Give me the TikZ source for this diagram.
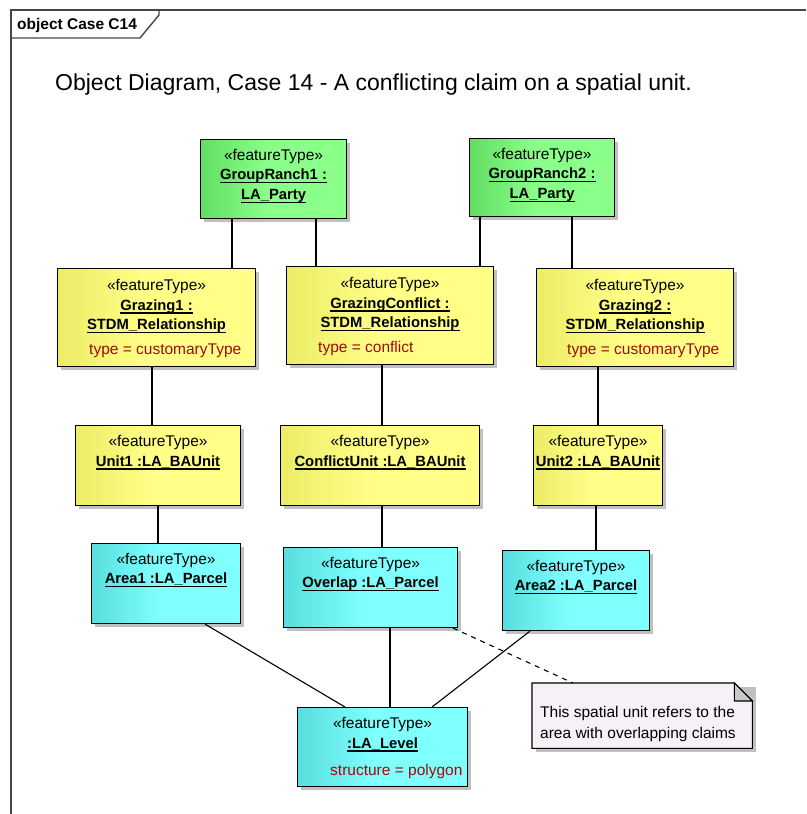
\documentclass[tikz,border=0pt]{standalone}
\usepackage{fontspec}
\setmainfont{Liberation Sans}
\usetikzlibrary{calc}

% box fills: darker at the left edge, fading to the flat colour
\definecolor{greenL}{RGB}{98,222,98}
\definecolor{greenR}{RGB}{138,255,138}
\definecolor{yellowL}{RGB}{236,236,104}
\definecolor{yellowR}{RGB}{255,255,136}
\definecolor{cyanL}{RGB}{88,222,222}
\definecolor{cyanR}{RGB}{128,255,255}
\definecolor{notefill}{RGB}{246,241,246}
\definecolor{foldfill}{RGB}{200,200,200}
\definecolor{shadowgray}{RGB}{192,192,192}
\definecolor{framegray}{RGB}{70,70,70}
\definecolor{attrred}{RGB}{160,10,10}

\pgfdeclarehorizontalshading{greenshade}{100bp}{color(0bp)=(greenL); color(25bp)=(greenL); color(48bp)=(greenR); color(100bp)=(greenR)}
\pgfdeclarehorizontalshading{yellowshade}{100bp}{color(0bp)=(yellowL); color(25bp)=(yellowL); color(48bp)=(yellowR); color(100bp)=(yellowR)}
\pgfdeclarehorizontalshading{cyanshade}{100bp}{color(0bp)=(cyanL); color(25bp)=(cyanL); color(48bp)=(cyanR); color(100bp)=(cyanR)}

% underlined object names
\newsavebox\ulinebox
\newcommand\uname[1]{\sbox\ulinebox{#1}\rlap{\vrule height -2.4pt depth 3.7pt width \wd\ulinebox}\usebox\ulinebox}

\tikzset{
  objnode/.style={draw=black, line width=1.1pt, rectangle, inner sep=0pt},
  greenobj/.style={objnode, shading=greenshade},
  yellowobj/.style={objnode, shading=yellowshade},
  cyanobj/.style={objnode, shading=cyanshade},
  boxshadow/.style={fill=shadowgray},
  stereo/.style={anchor=base, inner sep=0pt, font=\fontsize{15.5}{18}\selectfont},
  objname/.style={anchor=base, inner sep=0pt, font=\bfseries\fontsize{14.8}{17}\selectfont},
  attr/.style={anchor=base west, inner sep=0pt, text=attrred, font=\fontsize{15.5}{18}\selectfont},
  notetext/.style={anchor=base west, inner sep=0pt, font=\fontsize{15.5}{18}\selectfont},
  conn/.style={draw=black, line width=1.1pt},
  frame/.style={draw=framegray, line width=1.4pt},
}

% object box with a drop shadow: name, x, y, width, height, style
\newcommand\objbox[6]{%
  \fill[boxshadow] (#2+4,#3+4) rectangle (#2+#4+4,#3+#5+4);
  \node[#6, minimum width=#4pt, minimum height=#5pt, anchor=north west] (#1) at (#2,#3) {};}

\begin{document}
\begin{tikzpicture}[x=1pt,y=-1pt]
\useasboundingbox (0,0) rectangle (806,814);
\fill[white] (0,0) rectangle (806,814);

% diagram frame and its name tab
\draw[frame] (11,814) -- (11,10) -- (806,10);
\draw[frame] (11,38) -- (140,38) -- (159,15) -- (159,10);
\node[anchor=base west, inner sep=0pt, font=\bfseries\fontsize{15.5}{18}\selectfont] (framelabel) at (17,29.5) {object Case C14};

% title
\node[anchor=base west, inner sep=0pt, font=\fontsize{23}{27}\selectfont] (title) at (55,90)
  {Object Diagram, Case 14 - A conflicting claim on a spatial unit.};

% parties
\objbox{gr1}{200}{139}{146}{79}{greenobj}
\node[stereo] (gr1-st) at ($(gr1.north)+(0,21)$) {«featureType»};
\node[objname] (gr1-n1) at ($(gr1.north)+(0,40.5)$) {\uname{GroupRanch1 :}};
\node[objname] (gr1-n2) at ($(gr1.north)+(0,60.5)$) {\uname{LA\_Party}};

\objbox{gr2}{469}{138}{145}{78}{greenobj}
\node[stereo] (gr2-st) at ($(gr2.north)+(0,21)$) {«featureType»};
\node[objname] (gr2-n1) at ($(gr2.north)+(0,40.5)$) {\uname{GroupRanch2 :}};
\node[objname] (gr2-n2) at ($(gr2.north)+(0,60.5)$) {\uname{LA\_Party}};

% relationships
\objbox{gz1}{57}{268}{198}{98}{yellowobj}
\node[stereo] (gz1-st) at ($(gz1.north)+(0,22)$) {«featureType»};
\node[objname] (gz1-n1) at ($(gz1.north)+(0,42)$) {\uname{Grazing1 :}};
\node[objname] (gz1-n2) at ($(gz1.north)+(0,61.5)$) {\uname{STDM\_Relationship}};
\node[attr] (gz1-at) at ($(gz1.north west)+(32,86)$) {type = customaryType};

\objbox{gzc}{286}{266}{207}{98}{yellowobj}
\node[stereo] (gzc-st) at ($(gzc.north)+(0,22)$) {«featureType»};
\node[objname] (gzc-n1) at ($(gzc.north)+(0,42)$) {\uname{GrazingConflict :}};
\node[objname] (gzc-n2) at ($(gzc.north)+(0,61.5)$) {\uname{STDM\_Relationship}};
\node[attr] (gzc-at) at ($(gzc.north west)+(32,86)$) {type = conflict};

\objbox{gz2}{536}{268}{197}{98}{yellowobj}
\node[stereo] (gz2-st) at ($(gz2.north)+(0,22)$) {«featureType»};
\node[objname] (gz2-n1) at ($(gz2.north)+(0,42)$) {\uname{Grazing2 :}};
\node[objname] (gz2-n2) at ($(gz2.north)+(0,61.5)$) {\uname{STDM\_Relationship}};
\node[attr] (gz2-at) at ($(gz2.north west)+(31,86)$) {type = customaryType};

% basic administrative units
\objbox{u1}{75}{425}{165}{80}{yellowobj}
\node[stereo] (u1-st) at ($(u1.north)+(0,21.5)$) {«featureType»};
\node[objname] (u1-n1) at ($(u1.north)+(0,41)$) {\uname{Unit1 :LA\_BAUnit}};

\objbox{cu}{280}{425}{199}{80}{yellowobj}
\node[stereo] (cu-st) at ($(cu.north)+(0,21.5)$) {«featureType»};
\node[objname] (cu-n1) at ($(cu.north)+(0,41)$) {\uname{ConflictUnit :LA\_BAUnit}};

\objbox{u2}{533}{425}{129}{80}{yellowobj}
\node[stereo] (u2-st) at ($(u2.north)+(0,21.5)$) {«featureType»};
\node[objname] (u2-n1) at ($(u2.north)+(0,41)$) {\uname{Unit2 :LA\_BAUnit}};

% parcels
\objbox{a1}{91}{543}{149}{80}{cyanobj}
\node[stereo] (a1-st) at ($(a1.north)+(0,21)$) {«featureType»};
\node[objname] (a1-n1) at ($(a1.north)+(0,40.5)$) {\uname{Area1 :LA\_Parcel}};

\objbox{ov}{283}{547}{174}{80}{cyanobj}
\node[stereo] (ov-st) at ($(ov.north)+(0,21)$) {«featureType»};
\node[objname] (ov-n1) at ($(ov.north)+(0,40.5)$) {\uname{Overlap :LA\_Parcel}};

\objbox{a2}{502}{550}{147}{80}{cyanobj}
\node[stereo] (a2-st) at ($(a2.north)+(0,21)$) {«featureType»};
\node[objname] (a2-n1) at ($(a2.north)+(0,40.5)$) {\uname{Area2 :LA\_Parcel}};

% level
\objbox{lv}{297}{707}{170}{79}{cyanobj}
\node[stereo] (lv-st) at ($(lv.north)+(0,21)$) {«featureType»};
\node[objname] (lv-n1) at ($(lv.north)+(0,41)$) {\uname{:LA\_Level}};
\node[attr] (lv-at) at ($(lv.north west)+(33,68)$) {structure = polygon};

% note with folded corner
\fill[boxshadow] (536,687) -- (756,687) -- (756,752) -- (536,752) -- cycle;
\node[minimum width=220pt, minimum height=65pt, inner sep=0pt, anchor=north west] (note) at (532,683) {};
\draw[fill=notefill, line width=1.1pt] (note.north west) -- ($(note.north east)+(-18,0)$)
  -- ($(note.north east)+(0,18)$) -- (note.south east) -- (note.south west) -- cycle;
\draw[fill=foldfill, line width=1.1pt, line join=miter] ($(note.north east)+(-18,0)$) -- ($(note.north east)+(-18,18)$)
  -- ($(note.north east)+(0,18)$) -- cycle;
\node[notetext] (note-l1) at ($(note.north west)+(8,34)$) {This spatial unit refers to the};
\node[notetext] (note-l2) at ($(note.north west)+(8,55.5)$) {area with overlapping claims};

% links
\draw[conn] (232,0 |- gr1.south) -- (232,0 |- gz1.north);
\draw[conn] (316,0 |- gr1.south) -- (316,0 |- gzc.north);
\draw[conn] (480,0 |- gr2.south) -- (480,0 |- gzc.north);
\draw[conn] (572,0 |- gr2.south) -- (572,0 |- gz2.north);
\draw[conn] (152,0 |- gz1.south) -- (152,0 |- u1.north);
\draw[conn] (382,0 |- gzc.south) -- (382,0 |- cu.north);
\draw[conn] (598,0 |- gz2.south) -- (598,0 |- u2.north);
\draw[conn] (158,0 |- u1.south) -- (158,0 |- a1.north);
\draw[conn] (382,0 |- cu.south) -- (382,0 |- ov.north);
\draw[conn] (596,0 |- u2.south) -- (596,0 |- a2.north);
\draw[conn] (205,0 |- a1.south) -- (345,0 |- lv.north);
\draw[conn] (390,0 |- ov.south) -- (390,0 |- lv.north);
\draw[conn] (530,0 |- a2.south) -- (432,0 |- lv.north);
\draw[conn, dash pattern=on 5pt off 5pt] (453,0 |- ov.south) -- (573,0 |- note.north);
\end{tikzpicture}
\end{document}
